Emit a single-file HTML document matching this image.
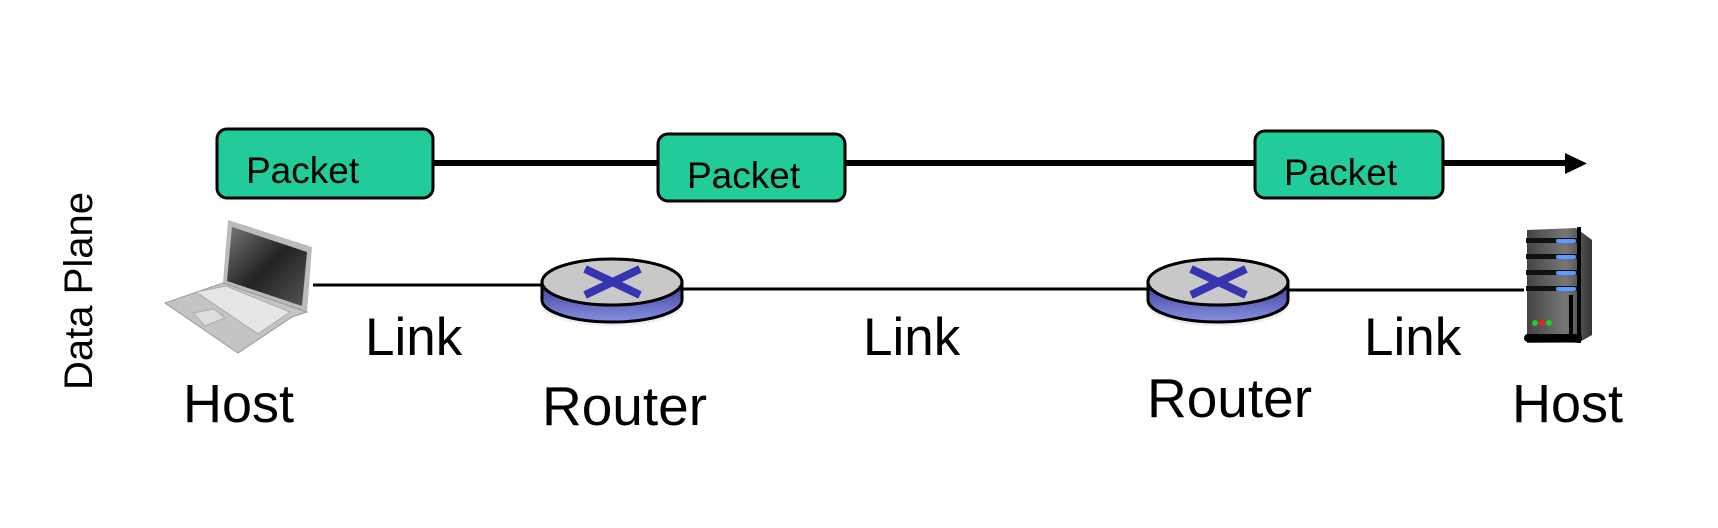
<!DOCTYPE html>
<html><head><meta charset="utf-8"><style>html,body{margin:0;padding:0;background:#fff}svg{display:block}</style></head>
<body>
<svg width="1718" height="528" viewBox="0 0 1718 528" xmlns="http://www.w3.org/2000/svg" font-family="Liberation Sans, Arial, sans-serif">
<defs>
<linearGradient id="rs" x1="0" y1="0" x2="0" y2="1"><stop offset="0" stop-color="#3a3f9a"/><stop offset="1" stop-color="#8890e0"/></linearGradient>
<linearGradient id="lp" x1="0" y1="0" x2="1" y2="1"><stop offset="0" stop-color="#777"/><stop offset="0.5" stop-color="#222"/><stop offset="1" stop-color="#555"/></linearGradient>
<linearGradient id="sv" x1="0" y1="0" x2="1" y2="0"><stop offset="0" stop-color="#444"/><stop offset="0.6" stop-color="#777"/><stop offset="1" stop-color="#333"/></linearGradient>
</defs>
<!-- top arrow line -->
<line x1="433" y1="163" x2="1570" y2="163" stroke="#000" stroke-width="6"/>
<polygon points="1565,153 1587,163.5 1565,174" fill="#000"/>
<!-- packets -->
<rect x="217" y="129" width="216" height="69" rx="10" fill="#22cc9a" stroke="#000" stroke-width="3"/>
<text x="246" y="183" font-size="37">Packet</text>
<rect x="658" y="134" width="187" height="67" rx="10" fill="#22cc9a" stroke="#000" stroke-width="3"/>
<text x="687" y="188" font-size="37">Packet</text>
<rect x="1255" y="131" width="188" height="67" rx="10" fill="#22cc9a" stroke="#000" stroke-width="3"/>
<text x="1284" y="185" font-size="37">Packet</text>
<!-- links -->
<line x1="313" y1="285" x2="542" y2="285" stroke="#000" stroke-width="3"/>
<line x1="683" y1="289" x2="1150" y2="289" stroke="#000" stroke-width="3"/>
<line x1="1286" y1="290" x2="1524" y2="290" stroke="#000" stroke-width="3"/>
<!-- routers -->
<g id="r1">
<ellipse cx="612" cy="306" rx="70" ry="20" fill="#ddd" opacity="0.5"/>
<path d="M542,282 L542,300 A70,22 0 0 0 682,300 L682,282 Z" fill="url(#rs)" stroke="#000" stroke-width="3"/>
<ellipse cx="612" cy="282" rx="70" ry="23" fill="#c8c8c8" stroke="#000" stroke-width="3"/>
<path d="M585,269 L640,295 M640,269 L585,295" stroke="#3535b0" stroke-width="8"/>
</g>
<g transform="translate(606,0)">
<ellipse cx="612" cy="306" rx="70" ry="20" fill="#ddd" opacity="0.5"/>
<path d="M542,282 L542,300 A70,22 0 0 0 682,300 L682,282 Z" fill="url(#rs)" stroke="#000" stroke-width="3"/>
<ellipse cx="612" cy="282" rx="70" ry="23" fill="#c8c8c8" stroke="#000" stroke-width="3"/>
<path d="M585,269 L640,295 M640,269 L585,295" stroke="#3535b0" stroke-width="8"/>
</g>
<!-- laptop -->
<polygon points="228,220 312,247 307,312 223,283" fill="#bbb"/>
<polygon points="232,227 307,252 302,306 227,281" fill="url(#lp)"/>
<polygon points="223,283 307,312 292,317 238,353 165,303" fill="#c4c4c4" stroke="#999" stroke-width="1"/>
<polygon points="196,292 226,286 290,312 258,334" fill="#e6e6e6" stroke="#aaa"/>
<polygon points="193,313 214,309 225,318 205,326" fill="#ddd" stroke="#aaa"/>
<!-- server -->
<polygon points="1527,230 1576,228 1592,240 1592,335 1578,343 1527,343" fill="url(#sv)"/>
<rect x="1526" y="238" width="52" height="5" fill="#111"/>
<rect x="1526" y="254" width="52" height="5" fill="#111"/>
<rect x="1526" y="270" width="52" height="5" fill="#111"/>
<rect x="1526" y="286" width="52" height="5" fill="#111"/>
<rect x="1556" y="239" width="20" height="4" rx="2" fill="#5a9cff"/>
<rect x="1556" y="255" width="20" height="4" rx="2" fill="#5a9cff"/>
<rect x="1556" y="271" width="20" height="4" rx="2" fill="#5a9cff"/>
<rect x="1556" y="287" width="20" height="4" rx="2" fill="#5a9cff"/>
<rect x="1577" y="227" width="4" height="116" fill="#000"/>
<rect x="1569" y="295" width="4" height="40" fill="#000"/>
<rect x="1524" y="334" width="58" height="8" rx="4" fill="#000"/>
<circle cx="1535" cy="323" r="3" fill="#2c2"/><circle cx="1542" cy="323" r="3" fill="#e22"/><circle cx="1549" cy="323" r="3" fill="#2c2"/>
<!-- labels -->
<text x="365" y="355" font-size="53">Link</text>
<text x="863" y="355" font-size="53">Link</text>
<text x="1364" y="355" font-size="53">Link</text>
<text x="183" y="422" font-size="54">Host</text>
<text x="542" y="425" font-size="55">Router</text>
<text x="1147" y="417" font-size="55">Router</text>
<text x="1512" y="422" font-size="54">Host</text>
<text transform="translate(92,291) rotate(-90)" text-anchor="middle" font-size="40">Data Plane</text>
</svg>
</body></html>
